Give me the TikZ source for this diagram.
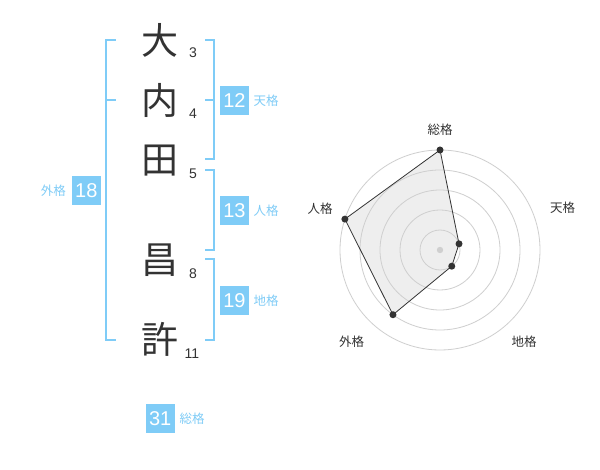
\documentclass[tikz,border=0pt]{standalone}
\usepackage{fontspec}
\setmainfont{Liberation Sans}
\newfontfamily\cjk{Noto Sans CJK JP}
\definecolor{kblue}{HTML}{7FCCF7}
\definecolor{ktext}{HTML}{333333}
\definecolor{kring}{HTML}{CFCFCF}
\definecolor{kfill}{HTML}{EEEEEE}
\begin{document}
\begin{tikzpicture}[x=1pt,y=-1pt,
  kanji/.style={font=\cjk\fontsize{37}{37}\selectfont, text=ktext, inner sep=0},
  strokenum/.style={font=\fontsize{14}{14}\selectfont, text=ktext, inner sep=0},
  numbox/.style={fill=kblue, text=white, minimum width=29, minimum height=29, inner sep=0, font=\fontsize{20}{20}\selectfont},
  kaku/.style={font=\cjk\fontsize{12.5}{12.5}\selectfont, text=kblue, inner sep=0},
  bracket/.style={draw=kblue, line width=2},
  ring/.style={draw=kring, line width=0.8},
  rlabel/.style={font=\cjk\fontsize{12.5}{12.5}\selectfont, text=ktext, inner sep=0},
  dot/.style={circle, fill=ktext, inner sep=0, minimum size=7}
]
\useasboundingbox[fill=white] (0,0) rectangle (600,470);

% name characters
\node[kanji] (c1) at (160,40) {大};
\node[kanji] (c2) at (160,100) {内};
\node[kanji] (c3) at (160,160.5) {田};
\node[kanji] (c4) at (160,260) {昌};
\node[kanji] (c5) at (160,339) {許};

% stroke counts
\node[strokenum] (s1) at (193,52.7) {3};
\node[strokenum] (s2) at (193,113.3) {4};
\node[strokenum] (s3) at (193,173.3) {5};
\node[strokenum] (s4) at (193,273.3) {8};
\node[strokenum] (s5) at (192,353.3) {11};

% brackets
\draw[bracket] (115.7,40) -- (105.7,40) -- (105.7,340) -- (115.7,340);
\draw[bracket] (105.7,100) -- (115.7,100);
\draw[bracket] (205,40) -- (214.3,40) -- (214.3,159.3) -- (205,159.3);
\draw[bracket] (205,100) -- (214.3,100);
\draw[bracket] (205,170) -- (214.3,170) -- (214.3,250) -- (205,250);
\draw[bracket] (205,259.3) -- (214.3,259.3) -- (214.3,340) -- (205,340);

% number boxes and labels
\node[numbox] (b12) at (234.5,100.3) {12};
\node[kaku, anchor=west] (l12) at (253.5,100.3) {天格};
\node[numbox] (b13) at (234.5,210.3) {13};
\node[kaku, anchor=west] (l13) at (253.5,210.3) {人格};
\node[numbox] (b19) at (234.5,300.3) {19};
\node[kaku, anchor=west] (l19) at (253.5,300.3) {地格};
\node[numbox] (b18) at (86.3,190.3) {18};
\node[kaku, anchor=east] (l18) at (66,190.3) {外格};
\node[numbox] (b31) at (160.2,418.8) {31};
\node[kaku, anchor=west] (l31) at (179.5,418.8) {総格};

% radar chart
\begin{scope}[shift={(440,250)}]
  \fill[kfill] (-90:100) -- (-18:20) -- (54:20) -- (126:80) -- (198:100) -- cycle;
  \foreach \r in {20,40,60,80,100} \draw[ring] (0,0) circle (\r);
  \fill[kring] (0,0) circle (3.2);
  \draw[ktext, line width=0.8] (-90:100) -- (-18:20) -- (54:20) -- (126:80) -- (198:100) -- cycle;
  \node[dot] (p1) at (-90:100) {};
  \node[dot] (p2) at (-18:20) {};
  \node[dot] (p3) at (54:20) {};
  \node[dot] (p4) at (126:80) {};
  \node[dot] (p5) at (198:100) {};
\end{scope}
\node[rlabel] (r1) at (440,130) {総格};
\node[rlabel] (r2) at (562.7,208) {天格};
\node[rlabel] (r3) at (524,341.7) {地格};
\node[rlabel] (r4) at (351.7,341.7) {外格};
\node[rlabel] (r5) at (320,209) {人格};
\end{tikzpicture}
\end{document}
